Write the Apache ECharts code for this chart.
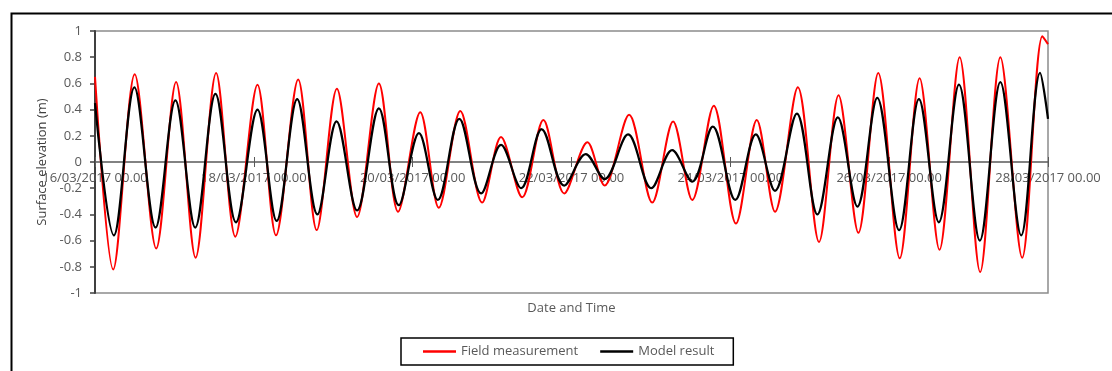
<!DOCTYPE html>
<html>
<head>
<meta charset="utf-8">
<script src="https://cdn.jsdelivr.net/npm/echarts@6/dist/echarts.min.js"></script>
<style>
  html, body { margin: 0; padding: 0; background: #fff; }
  #chart { width: 1112px; height: 371px; }
</style>
</head>
<body>
<div id="chart"></div>
<script>
// x tick labels, one every 48 h from 16/03/2017 00.00
var tickLabels = ['16/03/2017 00.00', '18/03/2017 00.00', '20/03/2017 00.00', '22/03/2017 00.00',
    '24/03/2017 00.00', '26/03/2017 00.00', '28/03/2017 00.00'];

// field measurement: hours since 16/03 00:00 and surface elevation (m), highs and lows
var fieldHours = [0, 5.5, 12.0, 18.5, 24.5, 30.4, 36.6, 42.4, 49.1, 54.7, 61.4, 67.0, 73.1, 79.2, 85.8, 91.6,
    98.3, 103.9, 110.4, 117.0, 122.7, 129.1, 135.5, 141.8, 148.8, 154.0, 161.4, 168.4, 174.7, 180.5, 187.0,
    193.7, 200.0, 205.5, 212.4, 218.8, 224.7, 230.7, 236.7, 243.2, 249.2, 255.2, 261.3, 267.5, 273.6, 280.2,
    286.3, 288];
var fieldLevel = [0.65, -0.82, 0.67, -0.66, 0.61, -0.73, 0.68, -0.57, 0.59, -0.56, 0.63, -0.52, 0.56, -0.42,
    0.60, -0.38, 0.38, -0.35, 0.39, -0.31, 0.19, -0.27, 0.32, -0.24, 0.15, -0.18, 0.36, -0.31, 0.31, -0.29,
    0.43, -0.47, 0.32, -0.38, 0.57, -0.61, 0.51, -0.54, 0.68, -0.735, 0.64, -0.67, 0.80, -0.84, 0.80, -0.73,
    0.96, 0.90];

// model result
var modelHours = [0, 5.7, 11.9, 18.3, 24.3, 30.3, 36.4, 42.6, 49.1, 54.9, 61.1, 67.2, 73.0, 79.2, 85.8, 91.8,
    97.9, 103.6, 110.1, 116.7, 122.7, 128.8, 135.0, 141.8, 148.3, 154.0, 161.1, 168.1, 174.4, 180.5, 186.7,
    193.5, 199.7, 205.5, 212.1, 218.3, 224.5, 230.4, 236.4, 243.0, 249.0, 255.0, 261.1, 267.4, 273.6, 279.9,
    285.6, 288];
var modelLevel = [0.45, -0.56, 0.57, -0.50, 0.47, -0.50, 0.52, -0.46, 0.40, -0.45, 0.48, -0.40, 0.31, -0.37,
    0.41, -0.33, 0.22, -0.29, 0.33, -0.24, 0.13, -0.20, 0.25, -0.18, 0.06, -0.13, 0.21, -0.20, 0.09, -0.15,
    0.27, -0.29, 0.21, -0.22, 0.37, -0.40, 0.34, -0.34, 0.49, -0.52, 0.48, -0.46, 0.59, -0.60, 0.61, -0.56,
    0.68, 0.33];

function pairs(xs, ys) {
    return xs.map(function (x, i) { return [x, ys[i]]; });
}

var font = 'Open Sans';
var grey = '#595959';
var gridTop = 31, gridBottom = 78;
// y range is symmetric (-1..1), so zero sits half the plot height above the bottom edge
var zeroOffset = -(371 - gridTop - gridBottom) / 2;

var chart = echarts.init(document.getElementById('chart'));
chart.setOption({
    animation: false,
    backgroundColor: '#fff',
    textStyle: { fontFamily: font },
    graphic: [{
        // outer frame
        type: 'rect',
        left: 9, top: 11,
        shape: { width: 1120, height: 420 },
        style: { fill: 'none', stroke: '#000', lineWidth: 2 },
        silent: true
    }],
    grid: {
        left: 95, right: 64, top: gridTop, bottom: gridBottom,
        show: true,
        borderColor: '#8c8c8c',
        borderWidth: 1.5
    },
    legend: {
        left: 401, top: 338,
        padding: [7, 19, 7, 22],
        borderColor: '#000',
        borderWidth: 1.5,
        selectedMode: false,
        icon: 'rect',
        itemWidth: 33,
        itemHeight: 2.5,
        itemGap: 22,
        textStyle: { fontFamily: font, fontSize: 13, color: grey },
        data: ['Field measurement', 'Model result']
    },
    xAxis: [{
        // date axis drawn along the zero line
        type: 'value',
        position: 'bottom',
        offset: zeroOffset,
        min: 0, max: 288, interval: 48,
        axisLine: { onZero: false, lineStyle: { color: '#595959', width: 1.5 } },
        axisTick: { length: 5, lineStyle: { color: '#595959', width: 1 } },
        axisLabel: {
            margin: 10,
            fontSize: 13, color: grey, fontFamily: font,
            showMinLabel: true, showMaxLabel: true,
            formatter: function (v) { return tickLabels[Math.round(v / 48)]; }
        },
        splitLine: { show: false }
    }, {
        // upper half of the cross ticks
        type: 'value',
        position: 'top',
        min: 0, max: 288, interval: 48,
        axisLine: { show: false, onZero: true, onZeroAxisIndex: 1 },
        axisTick: { show: true, length: 5, lineStyle: { color: '#595959', width: 1 } },
        axisLabel: { show: false },
        splitLine: { show: false }
    }, {
        // axis title under the plot
        type: 'value',
        position: 'bottom',
        min: 0, max: 288,
        axisLine: { show: false, onZero: false },
        axisTick: { show: false },
        axisLabel: { show: false },
        splitLine: { show: false },
        name: 'Date and Time',
        nameLocation: 'middle',
        nameGap: 9,
        nameTextStyle: { fontSize: 13, color: grey, fontFamily: font, verticalAlign: 'top' }
    }],
    yAxis: [{
        type: 'value',
        min: -1, max: 1, interval: 0.2,
        axisLine: { show: true, onZero: false, lineStyle: { color: '#404040', width: 2 } },
        axisTick: { show: true, length: 5, lineStyle: { color: '#404040', width: 1.5 } },
        axisLabel: { margin: 13, fontSize: 13, color: grey, fontFamily: font },
        splitLine: { show: false },
        name: 'Surface elevation (m)',
        nameLocation: 'middle',
        nameGap: 45,
        nameTextStyle: { fontSize: 13, color: '#404040', fontFamily: font }
    }, {
        type: 'value',
        position: 'right',
        min: -1, max: 1,
        axisLine: { show: false, onZero: false },
        axisTick: { show: false },
        axisLabel: { show: false },
        splitLine: { show: false }
    }],
    series: [{
        name: 'Field measurement',
        type: 'line',
        xAxisIndex: 0,
        data: pairs(fieldHours, fieldLevel),
        smooth: 0.32,
        showSymbol: false,
        color: '#ff0000',
        lineStyle: { color: '#ff0000', width: 2 }
    }, {
        name: 'Model result',
        type: 'line',
        xAxisIndex: 0,
        data: pairs(modelHours, modelLevel),
        smooth: 0.35,
        showSymbol: false,
        color: '#000',
        lineStyle: { color: '#000', width: 2.25 }
    }]
});
</script>
</body>
</html>
